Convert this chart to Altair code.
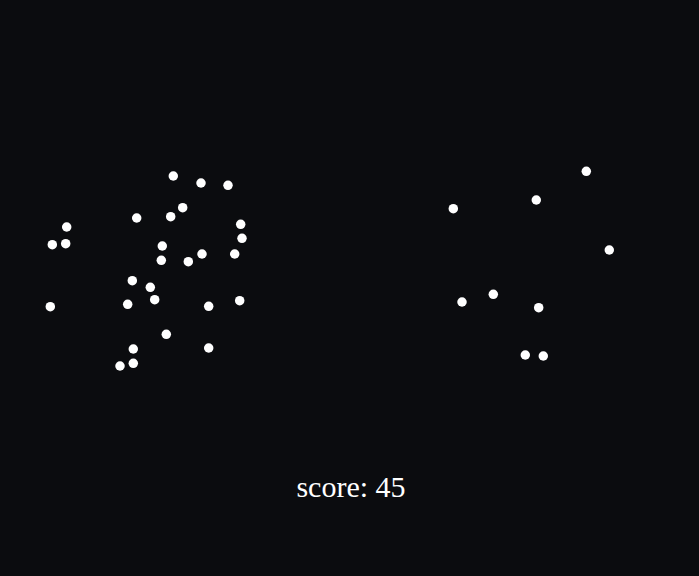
import altair as alt
import pandas as pd

# point positions (pixel-like units, y measured from top)
xs = [173.3, 201, 228, 182.7, 170.7, 136.7, 66.7, 240.7, 242, 52.3, 65.7, 162.3, 161.3, 188.3,
      202, 234.7, 132.3, 150.3, 154.7, 127.7, 50.3, 208.7, 239.7, 166.3, 133.3, 208.7, 120, 133.3,
      586.3, 536.3, 453.3, 609.3, 462, 493.3, 538.7, 525.3, 543.3]
ys = [176, 183, 185.3, 207.7, 216.7, 218, 227, 224.3, 238.3, 244.7, 243.7, 246, 260.3, 261.7,
      254, 254, 280.7, 287.3, 299.7, 304.3, 306.7, 306.3, 300.7, 334.3, 349, 348, 366, 363.3,
      171.3, 200, 208.7, 250, 302, 294.3, 307.7, 355, 356]

label_text = ["score: 45"]
label_x = [351]
label_y = [497]

W, H = 699, 576
pts = pd.DataFrame({"x": xs, "y": ys})
lab = pd.DataFrame({"x": label_x, "y": label_y, "t": label_text})

xsc = alt.Scale(domain=[0, W], nice=False, zero=False)
ysc = alt.Scale(domain=[0, H], nice=False, zero=False, reverse=True)

points = alt.Chart(pts).mark_circle(color="white", opacity=1, size=90).encode(
    x=alt.X("x:Q", scale=xsc, axis=None),
    y=alt.Y("y:Q", scale=ysc, axis=None),
)

text = alt.Chart(lab).mark_text(
    font="Liberation Serif", fontSize=30, color="white", baseline="alphabetic", align="center"
).encode(
    x=alt.X("x:Q", scale=xsc, axis=None),
    y=alt.Y("y:Q", scale=ysc, axis=None),
    text="t:N",
)

chart = alt.layer(points, text).properties(
    width=W, height=H,
    autosize=alt.AutoSizeParams(type="none"),
    padding=0,
    background="#0b0c0f",
).configure_view(stroke=None)

chart.save("out.html", embed_options={"renderer": "svg", "actions": False})
